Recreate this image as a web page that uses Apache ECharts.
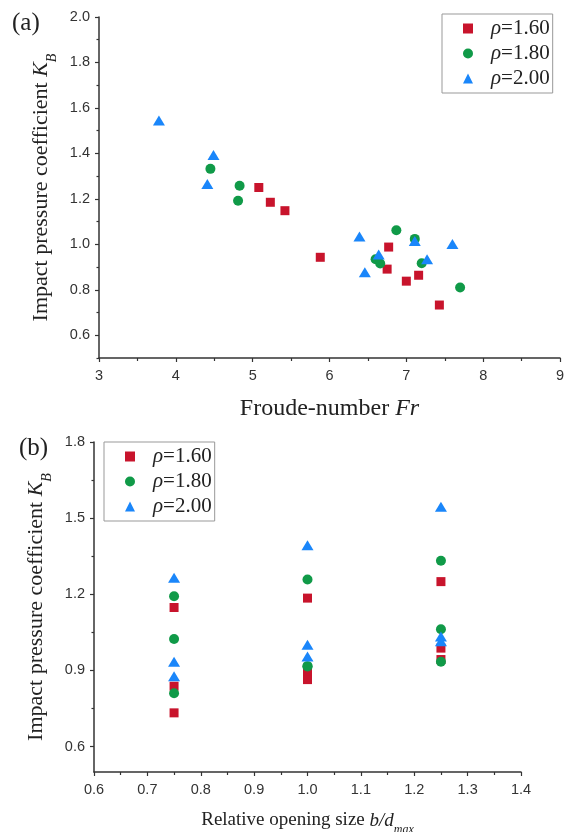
<!DOCTYPE html>
<html>
<head>
<meta charset="utf-8">
<script src="https://cdn.jsdelivr.net/npm/echarts@6/dist/echarts.min.js"></script>
<style>
  html, body { margin: 0; padding: 0; background: #fff; }
  #main { width: 567px; height: 832px; }
</style>
</head>
<body>
<div id="main"></div>
<script>
// data: one entry per test run
var rhoNames = ['1.60', '1.80', '2.00'];
var colors = ['#c8142c', '#109a48', '#1a86fa'];
var symbols = ['rect', 'circle', 'triangle'];
var symbolSizes = [9, 10, [12, 10]];

var fr160 = [5.08, 5.23, 5.42, 5.88, 6.77, 6.75, 7.00, 7.16, 7.43];
var kb160 = [1.25, 1.185, 1.148, 0.943, 0.988, 0.891, 0.838, 0.864, 0.733];
var bd160 = [1.25, 1.00, 0.75, 1.25, 1.25, 1.00, 0.75, 1.00, 0.75];

var fr180 = [4.45, 4.83, 4.81, 6.87, 7.11, 6.60, 6.66, 7.20, 7.70];
var kb180 = [1.332, 1.258, 1.192, 1.062, 1.024, 0.934, 0.916, 0.917, 0.81];
var bd180 = [1.25, 1.00, 0.75, 1.25, 0.75, 1.25, 1.00, 1.00, 0.75];

var fr200 = [3.78, 4.49, 4.41, 6.39, 6.64, 6.46, 7.11, 7.27, 7.60];
var kb200 = [1.545, 1.393, 1.265, 1.034, 0.955, 0.877, 1.015, 0.934, 1.001];
var bd200 = [1.25, 1.00, 0.75, 1.25, 1.00, 0.75, 1.25, 0.75, 1.00];

var yTicksA = [0.6, 0.8, 1.0, 1.2, 1.4, 1.6, 1.8, 2.0];
var yMinorA = [0.5, 0.7, 0.9, 1.1, 1.3, 1.5, 1.7, 1.9];
var yTicksB = [0.6, 0.9, 1.2, 1.5, 1.8];
var yMinorB = [0.75, 1.05, 1.35, 1.65];

var frList = [fr160, fr180, fr200];
var kbList = [kb160, kb180, kb200];
var bdList = [bd160, bd180, bd200];

var serif = 'Liberation Serif';
var sans = 'Liberation Sans';
var axisColor = '#333';

function pairs(xs, ys) {
    var out = [];
    for (var i = 0; i < xs.length; i++) {
        out.push([xs[i], ys[i]]);
    }
    return out;
}

function legendName(i) {
    return 'ρ=' + rhoNames[i];
}

function makeSeries() {
    var serie = [];
    for (var i = 0; i < 3; i++) {
        serie.push({
            name: legendName(i),
            type: 'scatter',
            xAxisIndex: 0,
            yAxisIndex: 0,
            symbol: symbols[i],
            symbolSize: symbolSizes[i],
            itemStyle: { color: colors[i], opacity: 1 },
            data: pairs(frList[i], kbList[i])
        });
        serie.push({
            name: legendName(i),
            type: 'scatter',
            xAxisIndex: 1,
            yAxisIndex: 2,
            symbol: symbols[i],
            symbolSize: symbolSizes[i],
            itemStyle: { color: colors[i], opacity: 1 },
            data: pairs(bdList[i], kbList[i])
        });
    }
    return serie;
}

function richFor(size) {
    return {
        i: { fontFamily: serif, fontStyle: 'italic', fontSize: size, color: '#222' },
        s: { fontFamily: serif, fontStyle: 'italic', fontSize: Math.round(size * 0.62), color: '#222', verticalAlign: 'bottom', padding: [0, 0, -Math.round(size * 0.3), 0] }
    };
}

function legendCfg(left, top) {
    return {
        data: [legendName(0), legendName(1), legendName(2)],
        orient: 'vertical',
        left: left,
        top: top,
        padding: [4, 3, 4, 21],
        itemGap: 4,
        itemWidth: 10,
        itemHeight: 10,
        borderColor: '#999',
        borderWidth: 1,
        borderRadius: 0,
        formatter: function (name) {
            return '{i|ρ}{n|' + name.slice(1) + '}';
        },
        textStyle: {
            padding: [0, 0, 0, 13],
            rich: {
                i: { fontFamily: serif, fontStyle: 'italic', fontSize: 21, color: '#222', lineHeight: 22 },
                n: { fontFamily: serif, fontSize: 21, color: '#222', lineHeight: 22 }
            }
        }
    };
}

var tickLabel = { fontFamily: sans, fontSize: 14.5, color: '#333', margin: 10 };

var myChart = echarts.init(document.getElementById('main'));

var option = {
    animation: false,
    backgroundColor: '#fff',
    graphic: [
        { type: 'text', left: 12, top: 11, style: { text: '(a)', fontFamily: serif, fontSize: 25, fill: '#222' } },
        { type: 'text', left: 19, top: 436, style: { text: '(b)', fontFamily: serif, fontSize: 25, fill: '#222' } }
    ],
    legend: [legendCfg(442, 14), legendCfg(104, 442)],
    grid: [
        { left: 99, top: 17, width: 461, height: 341, outerBoundsMode: 'none' },
        { left: 94, top: 442, width: 427, height: 330, outerBoundsMode: 'none' }
    ],
    xAxis: [
        {
            gridIndex: 0, type: 'value', min: 3, max: 9, interval: 1,
            name: 'Froude-number {i|Fr}', nameLocation: 'middle', nameGap: 39,
            nameTextStyle: { fontFamily: serif, fontSize: 24, color: '#222', rich: richFor(24) },
            axisLine: { lineStyle: { color: axisColor, width: 1.5 } },
            axisTick: { length: 4, lineStyle: { color: axisColor, width: 1.2 } },
            minorTick: { show: true, splitNumber: 2, length: 3, lineStyle: { color: axisColor, width: 1.2 } },
            splitLine: { show: false },
            axisLabel: tickLabel
        },
        {
            gridIndex: 1, type: 'value', min: 0.6, max: 1.4, interval: 0.1,
            name: 'Relative opening size {i|b/d}{s|max}', nameLocation: 'middle', nameGap: 39,
            nameTextStyle: { fontFamily: serif, fontSize: 19, color: '#222', rich: richFor(19) },
            axisLine: { lineStyle: { color: axisColor, width: 1.5 } },
            axisTick: { length: 4, lineStyle: { color: axisColor, width: 1.2 } },
            minorTick: { show: true, splitNumber: 2, length: 3, lineStyle: { color: axisColor, width: 1.2 } },
            splitLine: { show: false },
            axisLabel: {
                fontFamily: sans, fontSize: 14.5, color: '#333', margin: 10,
                formatter: function (v) { return v.toFixed(1); }
            }
        }
    ],
    yAxis: [
        {
            gridIndex: 0, type: 'value', min: 0.5, max: 2.0,
            name: 'Impact pressure coefficient {i|K}{s|B}', nameLocation: 'middle', nameRotate: 90, nameGap: 43,
            nameTextStyle: { fontFamily: serif, fontSize: 22, color: '#222', rich: richFor(22) },
            axisLine: { onZero: false, lineStyle: { color: axisColor, width: 1.5 } },
            axisTick: { length: 4, customValues: yTicksA, lineStyle: { color: axisColor, width: 1.2 } },
            splitLine: { show: false },
            axisLabel: {
                fontFamily: sans, fontSize: 14.5, color: '#333', margin: 9, customValues: yTicksA,
                formatter: function (v) { return v.toFixed(1); }
            }
        },
        {
            gridIndex: 0, type: 'value', min: 0.5, max: 2.0, position: 'left',
            axisLine: { show: false },
            axisTick: { length: 2.5, customValues: yMinorA, lineStyle: { color: axisColor, width: 1.2 } },
            axisLabel: { show: false },
            splitLine: { show: false }
        },
        {
            gridIndex: 1, type: 'value', min: 0.5, max: 1.8,
            name: 'Impact pressure coefficient {i|K}{s|B}', nameLocation: 'middle', nameRotate: 90, nameGap: 41,
            nameTextStyle: { fontFamily: serif, fontSize: 22, color: '#222', rich: richFor(22) },
            axisLine: { onZero: false, lineStyle: { color: axisColor, width: 1.5 } },
            axisTick: { length: 4, customValues: yTicksB, lineStyle: { color: axisColor, width: 1.2 } },
            splitLine: { show: false },
            axisLabel: {
                fontFamily: sans, fontSize: 14.5, color: '#333', margin: 9, customValues: yTicksB,
                formatter: function (v) { return v.toFixed(1); }
            }
        },
        {
            gridIndex: 1, type: 'value', min: 0.5, max: 1.8, position: 'left',
            axisLine: { show: false },
            axisTick: { length: 2.5, customValues: yMinorB, lineStyle: { color: axisColor, width: 1.2 } },
            axisLabel: { show: false },
            splitLine: { show: false }
        }
    ],
    series: makeSeries()
};

myChart.setOption(option);
</script>
</body>
</html>
